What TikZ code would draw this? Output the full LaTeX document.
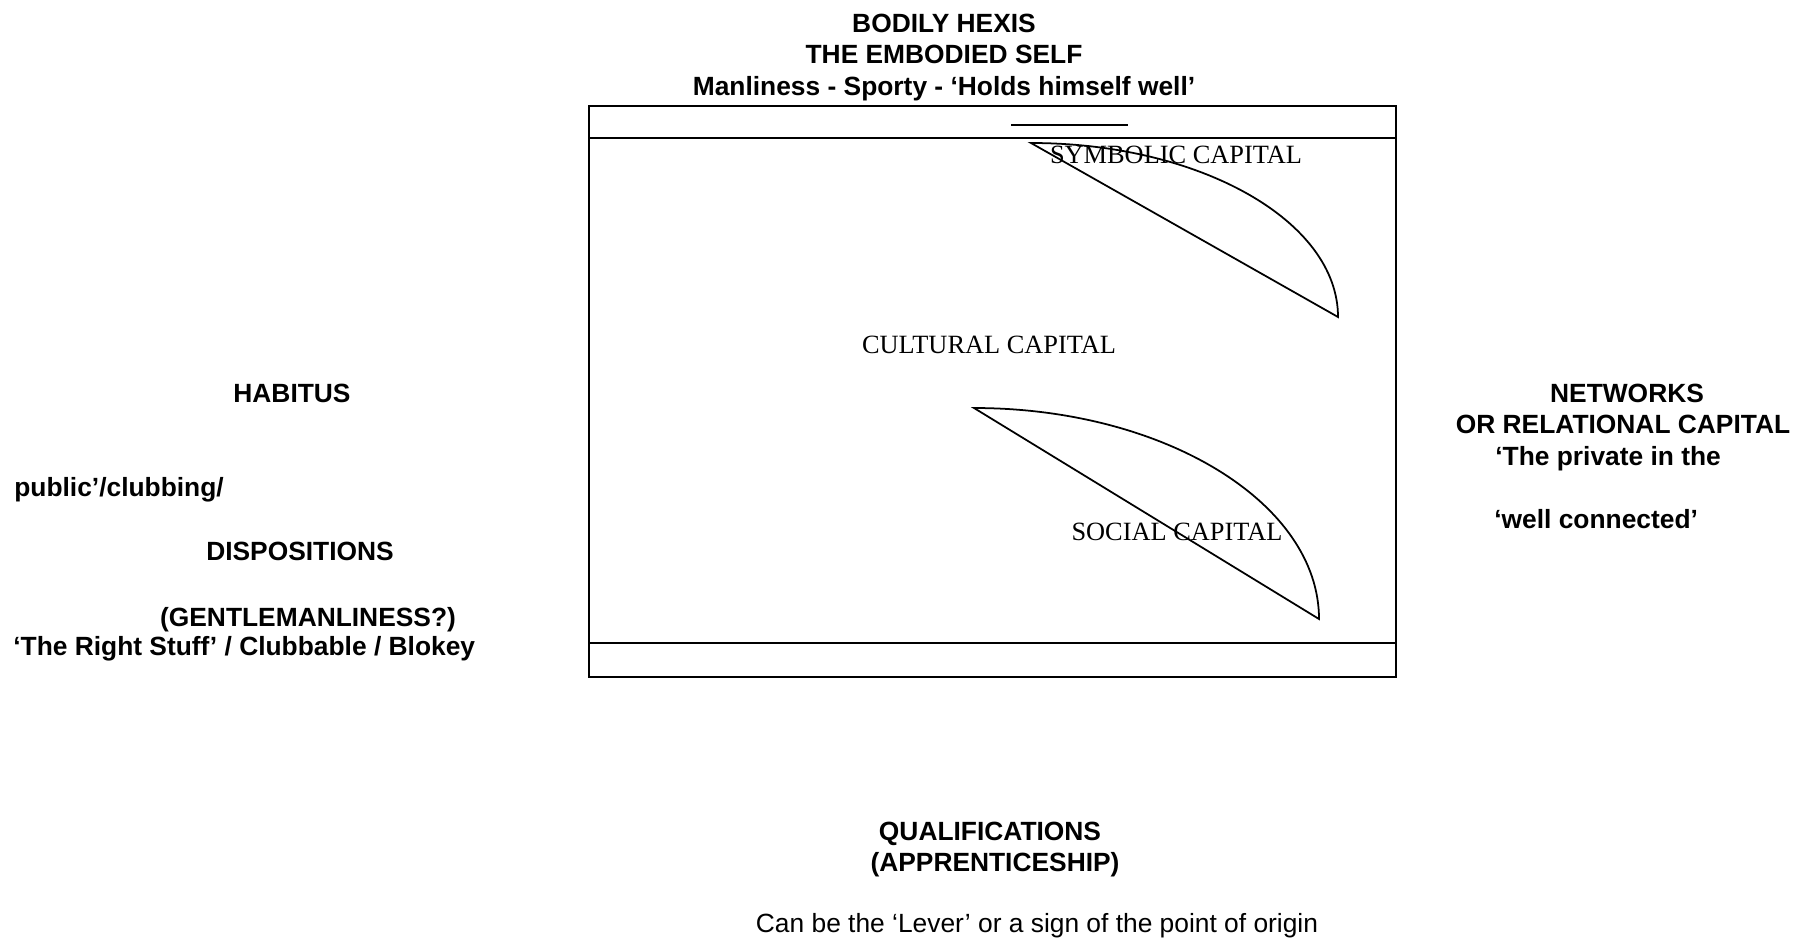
\documentclass[tikz,border=0pt]{standalone}
\usepackage{fontspec}
\setmainfont{Liberation Serif}
\setsansfont{Liberation Sans}
\begin{document}
\begin{tikzpicture}[x=0.02cm, y=-0.02cm,
        heading/.style={font=\fontsize{15}{18}\selectfont\sffamily\bfseries, inner sep=0pt, anchor=base},
        capital/.style={font=\fontsize{15}{18}\selectfont\rmfamily, inner sep=0pt, anchor=base},
        remark/.style={font=\fontsize{15}{18}\selectfont\sffamily, inner sep=0pt, anchor=base},
        frame/.style={draw, line width=1.3pt},
        lens/.style={draw, line width=1pt, line join=miter}
    ]
        \useasboundingbox (0,0) rectangle (1804,938);

        % Field frame
        \draw[frame] (589,106) rectangle (1396,677);
        \draw[frame] (589,138) -- (1396,138);
        \draw[frame] (589,643) -- (1396,643);
        \draw[frame] (1011,125) -- (1128,125);

        % Capitals
        \draw[lens] (1031,143) -- (1338,317) .. controls (1338,221) and (1200,143) .. cycle;
        \draw[lens] (974,408) -- (1319,619) .. controls (1319,503) and (1164,408) .. cycle;
        \node[capital] (symbolic) at (1176,163) {SYMBOLIC CAPITAL};
        \node[capital] (cultural) at (989,353) {CULTURAL CAPITAL};
        \node[capital] (social) at (1177,540) {SOCIAL CAPITAL};

        % Top
        \node[heading] (hexis) at (944,32) {BODILY HEXIS};
        \node[heading] (self) at (944,63) {THE EMBODIED SELF};
        \node[heading] (manly) at (944,95) {Manliness - Sporty - ‘Holds himself well’};

        % Left
        \node[heading] (habitus) at (292,402) {HABITUS};
        \node[heading, anchor=base west] (clubbing) at (14,496) {public’/clubbing/};
        \node[heading] (dispositions) at (300,560) {DISPOSITIONS};
        \node[heading] (gentleman) at (308,626) {(GENTLEMANLINESS?)};
        \node[heading, anchor=base west] (stuff) at (13,655) {‘The Right Stuff’ / Clubbable / Blokey};

        % Right
        \node[heading] (networks) at (1627,402) {NETWORKS};
        \node[heading] (relational) at (1623,433) {OR RELATIONAL CAPITAL};
        \node[heading, anchor=base west] (private) at (1495,465) {‘The private in the};
        \node[heading, anchor=base west] (connected) at (1494,528) {‘well connected’};

        % Bottom
        \node[heading] (qualif) at (990,840) {QUALIFICATIONS};
        \node[heading] (apprentice) at (995,871) {(APPRENTICESHIP)};
        \node[remark] (lever) at (1037,932) {Can be the ‘Lever’ or a sign of the point of origin};
    \end{tikzpicture}
\end{document}
